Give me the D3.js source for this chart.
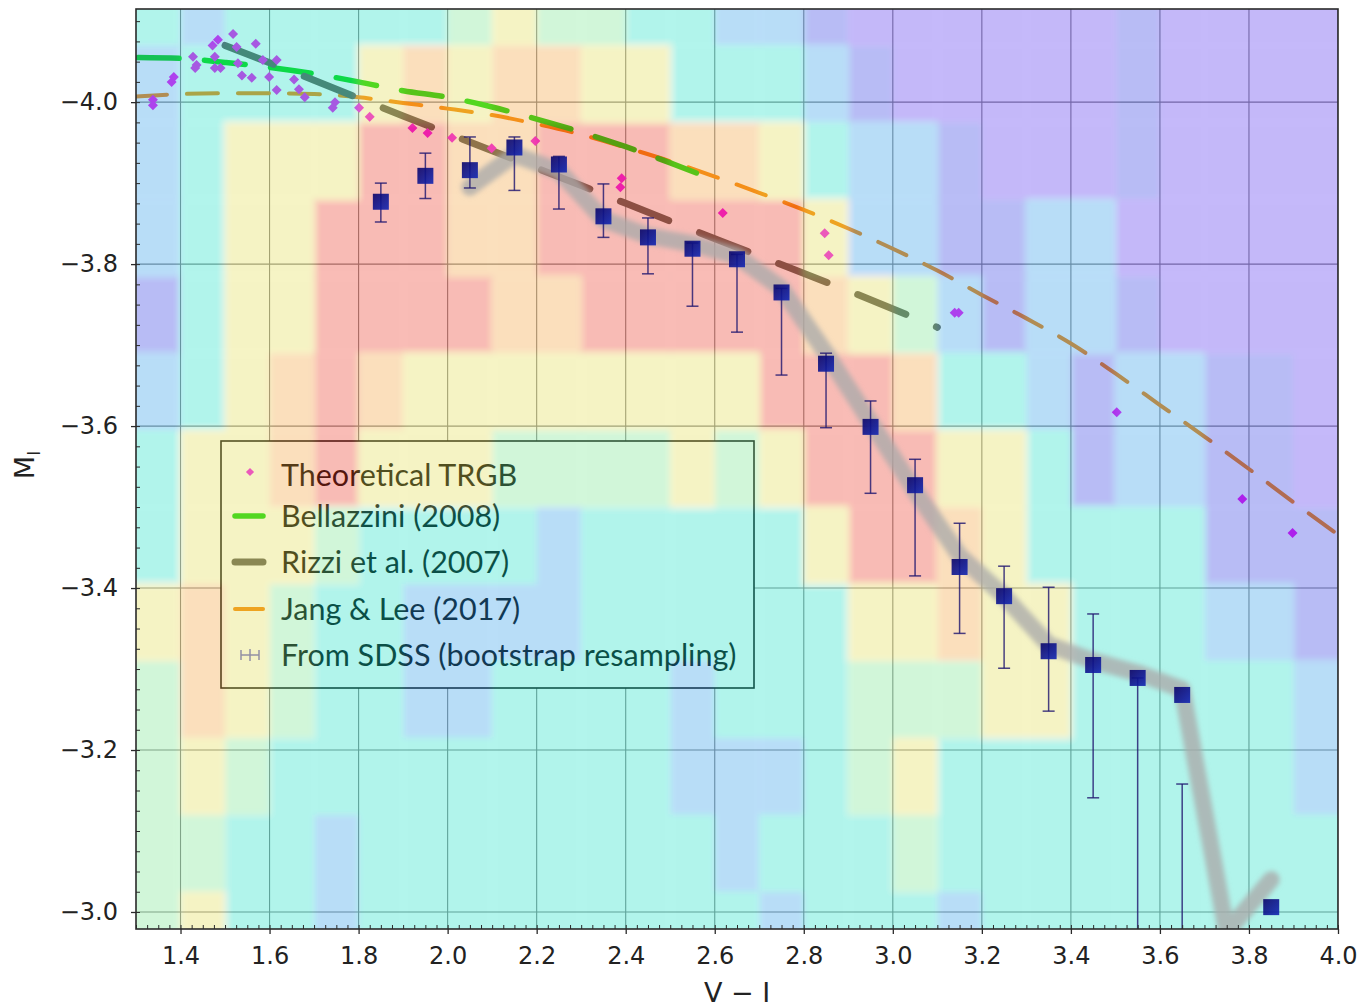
<!DOCTYPE html>
<html>
<head>
<meta charset="utf-8">
<script src="https://cdn.jsdelivr.net/npm/d3@7"></script>
<style>
  body { margin: 0; background: #fff; }
  text { font-family: "DejaVu Sans", sans-serif; }
</style>
</head>
<body>
<svg id="chart" width="1361" height="1008"></svg>
<script>
// ---- data ----

// background density map: 27 colour bins (V-I), 13 magnitude bins, levels 0 (low) .. 7 (high)
var binX = [1.3,1.4,1.5,1.6,1.7,1.8,1.9,2.0,2.1,2.2,2.3,2.4,2.5,2.6,2.7,2.8,2.9,3.0,3.1,3.2,3.3,3.4,3.5,3.6,3.7,3.8,3.9];
var binYEdges = [-4.165,-4.07,-3.975,-3.88,-3.785,-3.69,-3.595,-3.50,-3.405,-3.31,-3.215,-3.12,-3.025,-2.93];
var densityRows = [
  "323333345443322100000010000",
  "233335656655333210000010000",
  "235557766777665322100010000",
  "235577766777777522112200000",
  "135577776677777654212210000",
  "235676555555557776332122110",
  "355675554444545777553122110",
  "355543333233333577653333111",
  "565433222233333355655333221",
  "465433223333233344455333332",
  "454333333333222345333333332",
  "443323333333323334333333333",
  "453323333333332333233333333"
];
var levelColors = ["#4119ee","#1926e1","#1291e8","#05dec0","#69e484","#e1da41","#f29826","#eb200c"];

// Theoretical TRGB
var trgbX = [1.338,1.338,1.380,1.385,1.428,1.433,1.436,1.472,1.484,1.477,1.477,1.490,1.518,1.526,1.529,1.538,1.560,1.569,1.585,1.599,1.616,1.616,1.655,1.666,1.679,1.747,1.742,1.801,1.825,1.921,1.955,2.010,2.099,2.197,2.391,2.388,2.618,2.847,2.856,3.139,3.148,3.503,3.785,3.898];
var trgbY = [-4.003,-3.996,-4.025,-4.031,-4.056,-4.042,-4.046,-4.070,-4.077,-4.056,-4.042,-4.042,-4.084,-4.068,-4.048,-4.033,-4.030,-4.072,-4.052,-4.031,-4.052,-4.015,-4.028,-4.016,-4.006,-4.000,-3.993,-3.993,-3.982,-3.968,-3.962,-3.956,-3.943,-3.952,-3.906,-3.895,-3.863,-3.838,-3.811,-3.740,-3.740,-3.617,-3.510,-3.468];

// Bellazzini (2008)
var bellX = [1.3,1.4,1.5,1.6,1.7,1.8,1.9,2.0,2.1,2.2,2.3,2.4,2.5,2.58];
var bellY = [-4.055,-4.054,-4.049,-4.043,-4.035,-4.025,-4.014,-4.006,-3.994,-3.979,-3.963,-3.945,-3.925,-3.908];

// Rizzi et al. (2007)
var rizziX = [1.5,1.7,1.9,2.1,2.3,2.5,2.7,2.9,3.1];
var rizziY = [-4.070,-4.027,-3.983,-3.940,-3.897,-3.853,-3.810,-3.767,-3.722];

// Jang & Lee (2017)
var jangX = [1.3,1.4,1.5,1.6,1.7,1.8,1.9,2.0,2.1,2.2,2.3,2.4,2.5,2.6,2.7,2.8,2.9,3.0,3.1,3.2,3.3,3.4,3.5,3.6,3.7,3.8,3.9,4.0];
var jangY = [-4.007,-4.010,-4.011,-4.011,-4.010,-4.006,-3.999,-3.992,-3.984,-3.973,-3.960,-3.944,-3.927,-3.908,-3.888,-3.867,-3.844,-3.819,-3.792,-3.762,-3.733,-3.702,-3.665,-3.626,-3.587,-3.547,-3.506,-3.466];

// From SDSS (bootstrap resampling)
var sdssX   = [1.85,1.95,2.05,2.15,2.25,2.35,2.45,2.55,2.65,2.75,2.85,2.95,3.05,3.15,3.25,3.35,3.45,3.55,3.65,3.85];
var sdssY   = [-3.877,-3.909,-3.916,-3.944,-3.923,-3.859,-3.833,-3.819,-3.806,-3.765,-3.677,-3.599,-3.527,-3.426,-3.390,-3.322,-3.305,-3.289,-3.268,-3.006];
var sdssTop = [-3.900,-3.937,-3.957,-3.957,-3.933,-3.899,-3.857,-3.826,-3.812,-3.770,-3.690,-3.631,-3.559,-3.480,-3.427,-3.401,-3.368,-3.289,-3.158,null];
var sdssBot = [-3.852,-3.881,-3.894,-3.891,-3.868,-3.833,-3.788,-3.748,-3.716,-3.663,-3.598,-3.517,-3.415,-3.344,-3.301,-3.248,-3.141,-2.900,-2.900,null];

// grey trend band
var bandX = [2.05,2.15,2.25,2.35,2.45,2.55,2.65,2.75,2.85,2.95,3.05,3.15,3.25,3.35,3.45,3.55,3.65,3.75,3.85];
var bandY = [-3.895,-3.935,-3.915,-3.855,-3.835,-3.825,-3.810,-3.770,-3.690,-3.605,-3.520,-3.440,-3.390,-3.330,-3.310,-3.295,-3.275,-2.975,-3.040];

var xTicks = [1.4,1.6,1.8,2.0,2.2,2.4,2.6,2.8,3.0,3.2,3.4,3.6,3.8,4.0];
var yTicks = [-4.0,-3.8,-3.6,-3.4,-3.2,-3.0];

var legendLabels = ["Theoretical TRGB","Bellazzini (2008)","Rizzi et al. (2007)","Jang & Lee (2017)","From SDSS (bootstrap resampling)"];

// ---- layout ----
var svg = d3.select("#chart");
var x = d3.scaleLinear().domain([1.3, 4.0]).range([136, 1338]);
var y = d3.scaleLinear().domain([-4.115, -2.979]).range([9, 929]);

var defs = svg.append("defs");
defs.append("clipPath").attr("id", "plotclip")
  .append("rect").attr("x", 136).attr("y", 9).attr("width", 1202).attr("height", 920);
defs.append("filter").attr("id", "soft").attr("x", "-5%").attr("y", "-5%").attr("width", "110%").attr("height", "110%")
  .append("feGaussianBlur").attr("stdDeviation", 3);
defs.append("filter").attr("id", "bandblur").attr("x", "-10%").attr("y", "-10%").attr("width", "120%").attr("height", "120%")
  .append("feGaussianBlur").attr("stdDeviation", 2.4);
var grad = defs.append("linearGradient").attr("id", "sq").attr("x1", 0).attr("y1", 0).attr("x2", 1).attr("y2", 1);
grad.append("stop").attr("offset", "0%").attr("stop-color", "#0a0468");
grad.append("stop").attr("offset", "100%").attr("stop-color", "#1226b4");

svg.append("rect").attr("x", 136).attr("y", 9).attr("width", 1202).attr("height", 920).attr("fill", "#fff");

var plot = svg.append("g").attr("clip-path", "url(#plotclip)");

// grid
plot.append("g").selectAll("line.gx").data(xTicks).enter().append("line")
  .attr("x1", function(d) { return x(d); }).attr("x2", function(d) { return x(d); })
  .attr("y1", 9).attr("y2", 929)
  .attr("stroke", "#8a8a8a").attr("stroke-width", 1.1);
plot.append("g").selectAll("line.gy").data(yTicks).enter().append("line")
  .attr("y1", function(d) { return y(d); }).attr("y2", function(d) { return y(d); })
  .attr("x1", 136).attr("x2", 1338)
  .attr("stroke", "#8a8a8a").attr("stroke-width", 1.1);

function zip(a, b) { return a.map(function(v, i) { return [v, b[i]]; }); }
var curve = d3.line().x(function(d) { return x(d[0]); }).y(function(d) { return y(d[1]); }).curve(d3.curveMonotoneX);

plot.append("path").datum(zip(jangX, jangY)).attr("d", curve)
  .attr("fill", "none").attr("stroke", "#f58c14").attr("stroke-width", 4)
  .attr("stroke-dasharray", "31,20").attr("stroke-linecap", "round");
plot.append("path").datum(zip(bellX, bellY)).attr("d", curve)
  .attr("fill", "none").attr("stroke", "#14d714").attr("stroke-width", 5.5)
  .attr("stroke-dasharray", "41,25.5").attr("stroke-dashoffset", -2).attr("stroke-linecap", "round");
plot.append("path").datum(zip(rizziX, rizziY)).attr("d", curve)
  .attr("fill", "none").attr("stroke", "#64645c").attr("stroke-width", 7)
  .attr("stroke-dasharray", "52,33").attr("stroke-linecap", "round");

var diamond = d3.symbol().type(d3.symbolSquare).size(50);
plot.append("g").selectAll("path").data(zip(trgbX, trgbY)).enter().append("path")
  .attr("d", diamond)
  .attr("transform", function(d) { return "translate(" + x(d[0]) + "," + y(d[1]) + ") rotate(45)"; })
  .attr("fill", "#f020f0");

// legend
var lg = plot.append("g");
lg.append("rect").attr("x", 221).attr("y", 441).attr("width", 533).attr("height", 247)
  .attr("fill", "#fff").attr("stroke", "#1a1a1a").attr("stroke-width", 1.6);
var rowsY = [475, 516, 562, 609, 655];
lg.append("path").attr("d", d3.symbol().type(d3.symbolSquare).size(34))
  .attr("transform", "translate(250," + (rowsY[0] - 3) + ") rotate(45)").attr("fill", "#f020f0");
lg.append("line").attr("x1", 235).attr("x2", 263).attr("y1", rowsY[1]).attr("y2", rowsY[1])
  .attr("stroke", "#14d714").attr("stroke-width", 5.5).attr("stroke-linecap", "round");
lg.append("line").attr("x1", 235).attr("x2", 263).attr("y1", rowsY[2]).attr("y2", rowsY[2])
  .attr("stroke", "#64645c").attr("stroke-width", 7).attr("stroke-linecap", "round");
lg.append("line").attr("x1", 235).attr("x2", 263).attr("y1", rowsY[3]).attr("y2", rowsY[3])
  .attr("stroke", "#f58c14").attr("stroke-width", 4).attr("stroke-linecap", "round");
var eh = lg.append("g").attr("stroke", "#7070d0").attr("stroke-width", 1.5).attr("fill", "none");
eh.append("line").attr("x1", 241).attr("x2", 259).attr("y1", rowsY[4]).attr("y2", rowsY[4]);
eh.append("line").attr("x1", 241).attr("x2", 241).attr("y1", rowsY[4] - 5).attr("y2", rowsY[4] + 5);
eh.append("line").attr("x1", 259).attr("x2", 259).attr("y1", rowsY[4] - 5).attr("y2", rowsY[4] + 5);
eh.append("line").attr("x1", 250).attr("x2", 250).attr("y1", rowsY[4] - 6).attr("y2", rowsY[4] + 6);
lg.selectAll("text").data(legendLabels).enter().append("text")
  .attr("x", 281).attr("y", function(d, i) { return rowsY[i]; }).attr("dy", "0.36em")
  .style("font-family", "Lato, sans-serif").style("font-size", "30.5px").attr("fill", "#111")
  .text(function(d) { return d; });

// density overlay (translucent, on top of the curves as in the original)
var cells = [];
densityRows.forEach(function(row, r) {
  row.split("").forEach(function(ch, c) {
    cells.push({ x0: binX[c], r: r, level: +ch });
  });
});
var heat = plot.append("g").attr("opacity", 0.3).append("g").attr("filter", "url(#soft)");
heat.selectAll("rect").data(cells).enter().append("rect")
  .attr("x", function(d) { return d.x0 <= 1.3 ? x(d.x0) - 20 : x(d.x0); })
  .attr("width", function(d) { return (d.x0 <= 1.3 || d.x0 >= 3.9) ? x(d.x0 + 0.1) - x(d.x0) + 20 : x(d.x0 + 0.1) - x(d.x0) + 0.5; })
  .attr("y", function(d) { return y(binYEdges[d.r]); })
  .attr("height", function(d) { return y(binYEdges[d.r + 1]) - y(binYEdges[d.r]) + 0.5; })
  .attr("fill", function(d) { return levelColors[d.level]; });

// grey trend band
plot.append("path").datum(zip(bandX, bandY))
  .attr("d", d3.line().x(function(d) { return x(d[0]); }).y(function(d) { return y(d[1]); }))
  .attr("fill", "none").attr("stroke", "#ababab").attr("stroke-opacity", 0.78)
  .attr("stroke-width", 17).attr("stroke-linecap", "round").attr("stroke-linejoin", "round")
  .attr("filter", "url(#bandblur)");

// SDSS error bars and points
var pts = sdssX.map(function(v, i) { return { x: v, y: sdssY[i], t: sdssTop[i], b: sdssBot[i] }; });
var eb = plot.append("g").attr("stroke", "#221870").attr("stroke-opacity", 0.82).attr("stroke-width", 1.5);
pts.filter(function(d) { return d.t !== null; }).forEach(function(d) {
  eb.append("line").attr("x1", x(d.x)).attr("x2", x(d.x)).attr("y1", y(d.t)).attr("y2", y(d.b));
  eb.append("line").attr("x1", x(d.x) - 6).attr("x2", x(d.x) + 6).attr("y1", y(d.t)).attr("y2", y(d.t));
  eb.append("line").attr("x1", x(d.x) - 6).attr("x2", x(d.x) + 6).attr("y1", y(d.b)).attr("y2", y(d.b));
});
plot.append("g").selectAll("rect").data(pts).enter().append("rect")
  .attr("x", function(d) { return x(d.x) - 8; }).attr("y", function(d) { return y(d.y) - 8; })
  .attr("width", 16).attr("height", 16)
  .attr("fill", "url(#sq)").attr("fill-opacity", 0.9);

// frame
svg.append("rect").attr("x", 136).attr("y", 9).attr("width", 1202).attr("height", 920)
  .attr("fill", "none").attr("stroke", "#2a2a2a").attr("stroke-width", 1.6);

// axes
var xAxis = svg.append("g").attr("transform", "translate(0,929)")
  .call(d3.axisBottom(x).tickValues(xTicks).tickFormat(d3.format(".1f")).tickSizeInner(5).tickSizeOuter(0).tickPadding(13));
var yAxis = svg.append("g").attr("transform", "translate(136,0)")
  .call(d3.axisLeft(y).tickValues(yTicks).tickFormat(d3.format(".1f")).tickSizeInner(5).tickSizeOuter(0).tickPadding(13));
[xAxis, yAxis].forEach(function(a) {
  a.select(".domain").remove();
  a.selectAll("text").style("font-family", "DejaVu Sans, sans-serif").style("font-size", "24px").attr("fill", "#222");
  a.selectAll("line").attr("stroke", "#2a2a2a").attr("stroke-width", 1.3);
});

var xMinor = d3.range(1.3, 4.0001, 0.025);
var yMinor = d3.range(-4.1, -2.979, 0.025);
svg.append("g").attr("transform", "translate(0,929)")
  .call(d3.axisBottom(x).tickValues(xMinor).tickSize(-4).tickFormat(""))
  .call(function(g) { g.select(".domain").remove(); g.selectAll("line").attr("stroke", "#2a2a2a"); });
svg.append("g").attr("transform", "translate(136,0)")
  .call(d3.axisLeft(y).tickValues(yMinor).tickSize(-4).tickFormat(""))
  .call(function(g) { g.select(".domain").remove(); g.selectAll("line").attr("stroke", "#2a2a2a"); });

// axis labels
svg.append("text").attr("x", 737).attr("y", 1002).attr("text-anchor", "middle")
  .style("font-size", "27px").attr("fill", "#222").text("V \u2212 I");
var ml = svg.append("text").attr("transform", "translate(34,465) rotate(-90)").attr("text-anchor", "middle")
  .style("font-size", "27px").attr("fill", "#222");
ml.append("tspan").text("M");
ml.append("tspan").attr("dy", 6).style("font-size", "17px").text("I");
</script>
</body>
</html>
